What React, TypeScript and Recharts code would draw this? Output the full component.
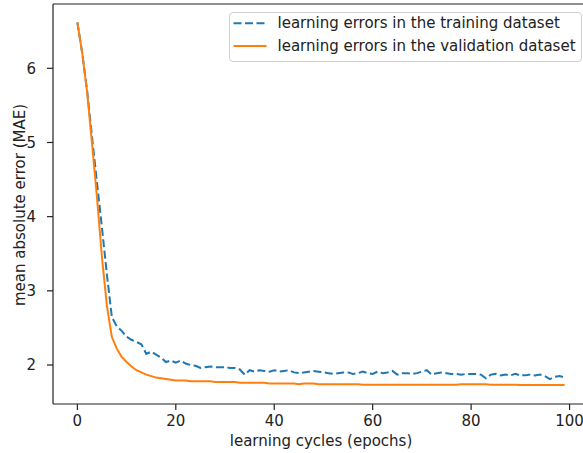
import React from 'react';
import { LineChart, Line, XAxis, YAxis, ReferenceLine, Label } from 'recharts';

// x categories: training epochs 0..99
const epochs: number[] = Array.from({ length: 100 }, (_, i) => i);

const trainingMAE: number[] = [
  6.62, 6.2, 5.69, 5.06, 4.45, 3.85, 3.22, 2.65, 2.52, 2.46,
  2.38, 2.34, 2.31, 2.28, 2.15, 2.18, 2.14, 2.1, 2.04, 2.06,
  2.03, 2.06, 2.02, 2.0, 1.99, 1.96, 1.97, 1.98, 1.97, 1.97,
  1.97, 1.96, 1.96, 1.94, 1.87, 1.93, 1.91, 1.93, 1.92, 1.91,
  1.93, 1.91, 1.92, 1.93, 1.9, 1.89, 1.9, 1.91, 1.92, 1.91,
  1.9, 1.89, 1.88, 1.89, 1.9, 1.9, 1.88, 1.89, 1.91, 1.89,
  1.88, 1.91, 1.89, 1.9, 1.92, 1.87, 1.89, 1.89, 1.88, 1.89,
  1.91, 1.93, 1.87, 1.89, 1.9, 1.89, 1.88, 1.88, 1.87, 1.88,
  1.88, 1.88, 1.87, 1.82, 1.87, 1.88, 1.86, 1.87, 1.86, 1.88,
  1.86, 1.86, 1.87, 1.86, 1.87, 1.85, 1.81, 1.84, 1.85, 1.83,
];

const validationMAE: number[] = [
  6.62, 6.2, 5.67, 4.97, 4.25, 3.45, 2.8, 2.38, 2.22, 2.11,
  2.04, 1.98, 1.93, 1.9, 1.87, 1.85, 1.83, 1.82, 1.81, 1.8,
  1.79, 1.79, 1.79, 1.78, 1.78, 1.78, 1.78, 1.78, 1.77, 1.77,
  1.77, 1.77, 1.77, 1.76, 1.76, 1.76, 1.76, 1.76, 1.76, 1.75,
  1.75, 1.75, 1.75, 1.75, 1.75, 1.74, 1.75, 1.75, 1.75, 1.74,
  1.74, 1.74, 1.74, 1.74, 1.74, 1.74, 1.74, 1.74, 1.735, 1.735,
  1.735, 1.735, 1.735, 1.735, 1.735, 1.735, 1.735, 1.735, 1.735, 1.735,
  1.735, 1.735, 1.735, 1.735, 1.735, 1.735, 1.735, 1.735, 1.74, 1.74,
  1.74, 1.74, 1.74, 1.74, 1.735, 1.735, 1.735, 1.735, 1.735, 1.735,
  1.73, 1.73, 1.73, 1.73, 1.73, 1.73, 1.73, 1.73, 1.73, 1.73,
];

const seriesNames: string[] = [
  'learning errors in the training dataset',
  'learning errors in the validation dataset',
];
const seriesColors: string[] = ['#1f77b4', '#ff7f0e'];

const xTicks: number[] = [0, 20, 40, 60, 80, 100];
const yTicks: number[] = [2, 3, 4, 5, 6];
const xDomain: [number, number] = [-4.95, 103.95];
const yDomain: [number, number] = [1.474, 6.867];

const xTitle = 'learning cycles (epochs)';
const yTitle = 'mean absolute error (MAE)';

const data = epochs.map((e, i) => ({
  epoch: e,
  train: trainingMAE[i],
  val: validationMAE[i],
}));

const FONT = 'DejaVu Sans';
const INK = '#222';

export default function App() {
  return (
    <div
      style={{
        position: 'absolute',
        left: 0,
        top: 0,
        width: 583,
        height: 453,
        overflow: 'hidden',
        background: '#fff',
        fontFamily: FONT,
      }}
    >
      <LineChart
        width={600}
        height={453}
        data={data}
        margin={{ top: 4, right: 11, bottom: 0, left: 0 }}
      >
        <XAxis
          dataKey="epoch"
          type="number"
          domain={xDomain}
          ticks={xTicks}
          allowDataOverflow
          interval={0}
          height={49}
          tickSize={6}
          tickMargin={5.5}
          axisLine={{ stroke: INK, strokeWidth: 1.2 }}
          tickLine={{ stroke: INK, strokeWidth: 1.2 }}
          tick={{ fill: INK, fontSize: 15, fontFamily: FONT }}
        >
          <Label
            content={(props: any) => {
              const vb = props.viewBox || { x: 0, y: 0, width: 0, height: 0 };
              return (
                <text
                  x={vb.x + vb.width / 2}
                  y={vb.y + vb.height - 6.6}
                  textAnchor="middle"
                  fill={INK}
                  fontSize={15}
                  fontFamily={FONT}
                >
                  {xTitle}
                </text>
              );
            }}
          />
        </XAxis>
        <YAxis
          type="number"
          domain={yDomain}
          ticks={yTicks}
          allowDataOverflow
          interval={0}
          width={53}
          tickSize={6}
          tickMargin={11}
          axisLine={{ stroke: INK, strokeWidth: 1.2 }}
          tickLine={{ stroke: INK, strokeWidth: 1.2 }}
          tick={{ fill: INK, fontSize: 15, fontFamily: FONT }}
        >
          <Label
            content={(props: any) => {
              const vb = props.viewBox || { x: 0, y: 0, width: 0, height: 0 };
              const cx = vb.x + 24.5;
              const cy = vb.y + vb.height / 2 + 1;
              return (
                <text
                  x={cx}
                  y={cy}
                  transform={`rotate(-90 ${cx} ${cy})`}
                  textAnchor="middle"
                  fill={INK}
                  fontSize={15}
                  fontFamily={FONT}
                >
                  {yTitle}
                </text>
              );
            }}
          />
        </YAxis>
        <ReferenceLine y={yDomain[1]} stroke={INK} strokeWidth={1.2} />
        <ReferenceLine x={xDomain[1]} stroke={INK} strokeWidth={1.2} />
        <Line
          type="linear"
          dataKey="train"
          name={seriesNames[0]}
          stroke={seriesColors[0]}
          strokeWidth={2}
          strokeDasharray="8 3.5"
          dot={false}
          activeDot={false}
          isAnimationActive={false}
        />
        <Line
          type="linear"
          dataKey="val"
          name={seriesNames[1]}
          stroke={seriesColors[1]}
          strokeWidth={2}
          dot={false}
          activeDot={false}
          isAnimationActive={false}
        />
      </LineChart>
      <div
        style={{
          position: 'absolute',
          left: 229,
          top: 12,
          width: 353,
          height: 50,
          boxSizing: 'border-box',
          border: '1px solid #d0d0d0',
          borderRadius: 4,
          background: 'rgba(255,255,255,0.8)',
        }}
      >
        <svg width={351} height={48} style={{ display: 'block' }}>
          {seriesNames.map((name, i) => {
            const ly = 10.3 + i * 22.7;
            return (
              <g key={name}>
                <line
                  x1={3.5}
                  x2={36.5}
                  y1={ly}
                  y2={ly}
                  stroke={seriesColors[i]}
                  strokeWidth={2}
                  strokeDasharray={i === 0 ? '8 3.5' : undefined}
                />
                <text x={47.5} y={ly + 5} fill={INK} fontSize={15} fontFamily={FONT}>
                  {name}
                </text>
              </g>
            );
          })}
        </svg>
      </div>
    </div>
  );
}
